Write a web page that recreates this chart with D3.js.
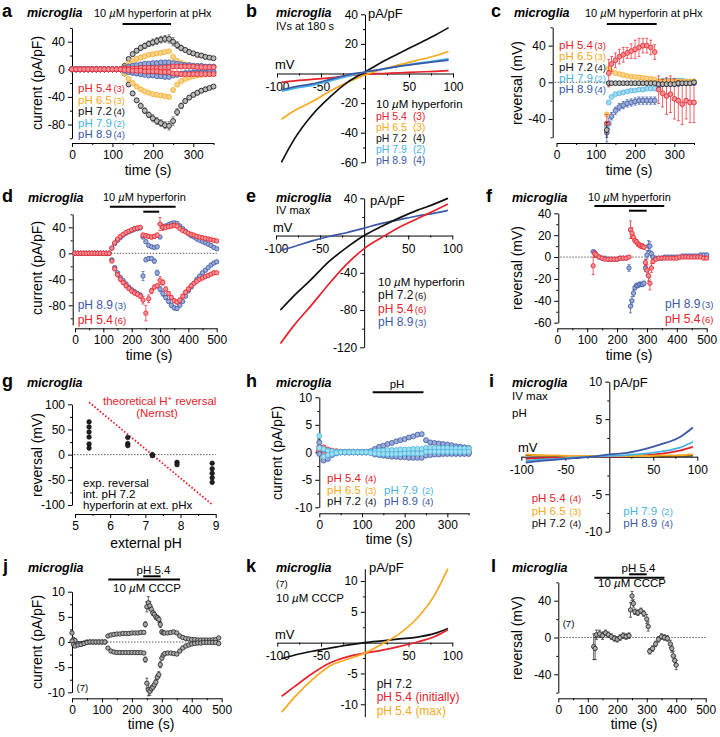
<!DOCTYPE html>
<html><head><meta charset="utf-8">
<script src="https://cdn.jsdelivr.net/npm/d3@7"></script>
<style>body{margin:0;background:#fff}svg{display:block}</style>
</head><body>
<script>
// ================= DATA =================
const RED="#e8212b", ORG="#f6a821", BLK="#111111", LBL="#48b3e3", DBL="#3b58a8";
const phLabels=["pH 5.4","pH 6.5","pH 7.2","pH 7.9","pH 8.9"];
const phColors=[RED,ORG,BLK,LBL,DBL];

// panel a : current vs time, hyperforin at pHx (positive / negative branches)
const tA=[0,10,20,30,40,50,60,70,80,90,100,110,120,130,140,150,160,170,180,190,200,210,220,230,240,250,260,270,280,290,300,310,320,330,340,350];
const aBlkP=[0,0,0,0,0,0,0,0,0,0,0,0,0,5,15,22,27,31,34,37,39,41,43,44,44,40,35,31,28,25,23,21,20,18,17,16];
const aBlkN=[0,0,0,0,0,0,0,0,0,0,0,0,0,-6,-22,-35,-45,-53,-60,-66,-71,-75,-78,-81,-82,-75,-62,-53,-46,-41,-37,-34,-31,-29,-27,-25];
const aBlkE=[0,0,0,0,0,0,0,0,0,0,0,0,0,1,2,3,3,4,4,4,5,5,5,5,6,6,5,4,3,3,3,3,3,3,2,2];
const aOrgP=[0,0,0,0,0,0,0,0,0,0,0,0,0,3,8,12,15,17,19,21,22,23,24,25,26,18,12,9,7,6,5,4,4,3,3,3];
const aOrgN=[0,0,0,0,0,0,0,0,0,0,0,0,0,-6,-14,-20,-25,-29,-32,-34,-36,-37,-38,-39,-40,-30,-22,-17,-14,-12,-10,-9,-8,-7,-7,-6];
const aLblP=[0,0,0,0,0,0,0,0,0,0,0,0,0,1,3,4,5,6,6,7,7,7,8,8,8,7,6,5,5,4,4,4,3,3,3,3];
const aLblN=[0,0,0,0,0,0,0,0,0,0,0,0,0,-2,-4,-5,-6,-7,-7,-8,-8,-9,-9,-9,-10,-8,-7,-6,-5,-5,-4,-4,-4,-4,-3,-3];
const aDblP=[0,0,0,0,0,0,0,0,0,0,0,0,0,2,4,5,6,7,8,8,9,9,10,10,10,9,8,7,6,6,5,5,5,4,4,4];
const aDblN=[0,0,0,0,0,0,0,0,0,0,0,0,0,-2,-4,-5,-6,-7,-8,-9,-9,-10,-10,-11,-11,-9,-8,-7,-6,-6,-5,-5,-5,-5,-4,-4];
const aRedP=[0,0,0,0,0,0,0,0,0,0,0,0,0,1,1,1,1,2,2,2,2,2,2,3,3,4,4,4,4,4,4,3,3,3,3,3];
const aRedN=[0,0,0,0,0,0,0,0,0,0,0,0,0,-1,-1,-2,-2,-2,-3,-3,-3,-3,-4,-4,-4,-6,-6,-7,-7,-7,-7,-7,-7,-7,-7,-7];
const aN=["(3)","(3)","(4)","(2)","(4)"];
const aBar=[125,245];

// panel b : IVs at 180 s
const vIV=[-95,-80,-60,-40,-20,0,20,40,60,80,95];
const bRed=[-6,-5,-4,-3,-1.5,-0.5,0,0.5,1,1.5,2];
const bOrg=[-31,-25,-19,-12,-6,-1,3,6,9,12,15];
const bBlk=[-60,-44,-28,-16,-6,1,8,14,20,26,31];
const bLbl=[-12,-10,-8,-5,-2,1,3,5,7,8.5,10];
const bDbl=[-11,-9,-7,-4,-1,1,3,5,6.5,8,9];
const bN=["(3)","(3)","(4)","(2)","(4)"];

// panel c : reversal vs time
const tC=[128,133,140,150,160,170,180,190,200,210,220,230,240,250,260,270,280,290,300,310,320,330,340,350];
const cRed=[-45,10,20,24,28,30,32,34,36,38,40,40,38,33,-8,-12,-15,-13,-18,-20,-24,-20,-22,-22];
const cRedE=[10,15,8,8,8,8,6,8,10,10,8,8,8,8,15,15,20,20,22,22,22,20,22,22];
const cOrg=[-35,15,12,10,9,8,7,6,6,5,5,4,4,3,1,1,1,1,1,1,1,1,1,1];
const cBlk=[-52,-1,-1,-1,-1,-1,-1,-1,-1,-1,-1,-1,-1,-1,-2,-2,-2,-2,-2,-1,-1,-1,-1,0];
const cBlkE=[8,2,1,1,1,1,1,1,1,1,1,1,1,1,1,1,1,1,1,1,1,1,1,1];
const cLbl=[-48,-22,-16,-13,-12,-11,-10,-9,-9,-8,-8,-7,-7,-7,1,2,2,2,2,2,2,1,1,1];
const cDbl=[-55,-45,-37,-31,-27,-25,-23,-22,-21,-20,-20,-20,-20,-20,-4,-2,-2,-2,-2,-2,-1,-1,-1,-1];
const cDblE=[10,6,4,4,4,4,4,4,4,4,4,4,4,4,2,1,1,1,1,1,1,1,1,1];
const cN=["(3)","(3)","(4)","(2)","(4)"];
const cBar=[128,255];

// panel d : current vs time, pH 8.9 / 5.4 during hyperforin
const tD=[0,10,20,30,40,50,60,70,80,90,100,110,120,130,140,150,160,170,180,190,200,210,220,230,240,250,260,270,280,290,300,310,320,330,340,350,360,370,380,390,400,410,420,430,440,450,460,470,480,490,500];
const dBlueP=[0,0,0,0,0,0,0,0,0,0,0,0,0,8,15,20,24,28,31,33,35,37,38,39,25,18,12,10,9,10,25,40,42,44,46,47,46,42,38,34,30,27,25,22,20,18,16,14,12,9,7];
const dRedP=[0,0,0,0,0,0,0,0,0,0,0,0,0,8,16,22,26,29,32,34,36,38,39,40,28,27,26,25,26,28,45,40,40,41,42,43,42,38,35,33,31,29,28,26,25,24,23,22,21,20,19];
const dRedPE=[0,0,0,0,0,0,0,0,0,0,0,0,0,2,2,2,2,2,2,2,2,2,2,2,3,3,3,3,3,3,10,5,3,3,3,3,3,2,2,2,2,2,2,2,2,2,2,2,2,2,2];
const dBlueN=[0,0,0,0,0,0,0,0,0,0,0,0,0,-10,-22,-30,-37,-42,-47,-52,-56,-59,-62,-64,-35,-10,-8,-8,-12,-30,-55,-62,-68,-74,-80,-84,-85,-80,-74,-66,-58,-52,-46,-40,-35,-30,-26,-22,-18,-15,-13];
const dBlueNE=[0,0,0,0,0,0,0,0,0,0,0,0,0,2,2,2,2,2,2,2,2,2,2,2,7,3,2,2,3,4,4,4,3,3,3,3,3,2,2,2,2,2,2,2,2,2,2,2,2,2,2];
const dRedN=[0,0,0,0,0,0,0,0,0,0,0,0,0,-12,-24,-33,-40,-45,-50,-54,-58,-61,-63,-66,-72,-92,-70,-58,-52,-50,-42,-45,-55,-62,-68,-73,-75,-72,-66,-60,-55,-50,-46,-43,-40,-38,-36,-34,-32,-30,-30];
const dRedNE=[0,0,0,0,0,0,0,0,0,0,0,0,0,2,2,3,3,3,3,3,3,3,3,3,6,12,6,4,3,3,6,4,3,3,3,3,3,3,3,3,3,3,2,2,2,2,2,2,2,2,2];
const dN=["(6)","","","","(3)"];
const dBar=[123,355], dPhBar=[241,297];

// panel e : IV max
const eBlk=[-80,-65,-47,-28,-13,0,10,19,27,34,40];
const eRed=[-116,-97,-75,-52,-31,-14,-2,9,18,27,34];
const eBlue=[-16,-12,-6,-1,3,8,13,17,21,24,27];
const eN=["(6)","","(6)","","(3)"];

// panel f : reversal vs time
const tF=[120,125,130,140,150,160,170,180,190,200,210,220,230,240,245,250,255,260,265,270,275,280,285,290,295,300,305,310,315,320,330,340,350,360,370,380,390,400,410,420,430,440,450,460,470,480,490,500];
const fBlue=[5,4,2,0,-1,-1,-2,-2,-2,-2,-1,-1,-1,-10,-45,-40,-33,-28,-26,-26,-25,-25,-25,-24,-10,2,10,10,3,0,-1,-1,-1,0,0,0,0,0,0,1,1,1,1,1,1,2,2,2];
const fBlueE=[1,1,1,1,1,1,1,1,1,1,1,1,1,3,6,4,3,2,2,2,2,2,2,2,3,4,5,4,2,1,1,1,1,1,1,1,1,1,1,1,1,1,1,1,1,1,1,1];
const fRed=[-8,3,2,0,-1,-2,-2,-2,-2,-2,-1,-1,-1,0,25,22,18,15,14,12,11,10,10,9,-5,-12,-17,-24,-10,-4,-2,-1,-1,-1,-1,-1,-1,-1,0,0,0,0,0,0,0,0,-1,-1];
const fRedE=[8,3,2,1,1,1,1,1,1,1,1,1,1,1,8,5,3,2,2,2,2,2,2,2,3,5,5,6,4,2,1,1,1,1,1,1,1,1,1,1,1,1,1,1,1,1,1,1];
const fBar=[124,358], fPhBar=[240,299];

// panel g : reversal vs external pH
const gPH=[5.4,5.4,5.4,5.4,5.4,5.4,6.5,6.5,6.5,7.2,7.2,7.9,7.9,8.9,8.9,8.9,8.9,8.9];
const gRev=[65,55,45,35,21,13,34,22,18,0,-2,-15,-20,-17,-28,-37,-46,-55];
const nernstPH=[5.4,8.9], nernstMV=[104,-99];

// panel h : pH alone
const tH=tA;
const hDblP=[1.8,0.5,0.2,0.1,0,0,0,0,0,0,0,0,0.2,0.6,1.0,1.2,1.5,1.7,2.0,2.2,2.4,2.7,2.9,3.2,3.3,2.2,1.8,1.7,1.6,1.5,1.4,1.3,1.1,1.0,0.9,0.8];
const hDblN=[-0.3,-1.5,-1.2,-0.5,-0.2,0,0,0,0,0,0,0,-0.1,-0.4,-0.5,-0.6,-0.7,-0.8,-0.8,-0.9,-0.9,-1.0,-1.0,-1.0,-1.0,-0.6,-0.5,-0.4,-0.4,-0.3,-0.3,-0.3,-0.3,-0.3,-0.3,-0.3];
const hLblP=[3.0,0.6,0.3,0.2,0.1,0.1,0.1,0.1,0.1,0.1,0.1,0.1,0.1,0.2,0.3,0.3,0.4,0.4,0.4,0.5,0.5,0.5,0.6,0.6,0.6,0.8,0.8,0.8,0.8,0.8,0.8,0.7,0.7,0.7,0.7,0.7];
const hLblN=[0.8,-0.8,-0.5,-0.3,-0.1,0,0,0,0,0,0,0,-0.1,-0.2,-0.3,-0.3,-0.3,-0.3,-0.3,-0.3,-0.2,-0.2,-0.2,-0.2,-0.2,0.1,0.1,0.1,0.1,0.1,0.1,0.1,0.1,0.1,0.1,0.1];
const hRedP=[1.0,0.9,0.5,0.3,0.2,0.1,0.1,0.1,0.1,0.1,0.1,0.1,0.1,0.1,0.1,0.1,0.1,0.1,0.1,0.2,0.2,0.2,0.2,0.2,0.2,0.3,0.3,0.3,0.3,0.3,0.3,0.3,0.2,0.2,0.2,0.2];
const hRedN=[0.3,-0.3,-0.2,-0.1,0,0,0,0,0,0,0,0,0,0,0,0,0,0,-0.1,-0.1,-0.1,-0.1,-0.1,-0.1,-0.1,-0.1,-0.1,-0.1,-0.1,-0.1,-0.1,-0.1,-0.1,-0.1,-0.1,-0.1];
const hOrg=[0.5,0.3,0.2,0.1,0.1,0.1,0.1,0.1,0.1,0.1,0.1,0.1,0.1,0.1,0.1,0.1,0.1,0.1,0.1,0.1,0.1,0.1,0.1,0.1,0.1,0.1,0.1,0.1,0.1,0.1,0.1,0.1,0.1,0.1,0.1,0.1];
const hBlk=[0.2,0.1,0,0,0,0,0,0,0,0,0,0,0,0,0,0,0,0,0,0,0,0,0,0,0,0,0,0,0,0,0,0,0,0,0,0];
const hN=["(4)","(3)","(4)","(2)","(4)"];
const hBar=[125,244];

// panel i : IV max, pH alone
const iRed=[-0.3,-0.2,-0.15,-0.1,0,0,0.05,0.2,0.4,0.8,1.3];
const iOrg=[0.3,0.2,0.15,0.1,0.1,0.1,0.1,0.1,0.15,0.2,0.3];
const iBlk=[0.2,0.15,0.1,0.05,0,0,0,0.05,0.05,0.1,0.15];
const iLbl=[-0.6,-0.4,-0.3,-0.1,0,0.1,0.2,0.4,0.7,1.2,2.0];
const iDbl=[-0.8,-0.6,-0.4,-0.2,0,0.3,0.5,1.0,1.7,2.6,3.9];

// panel j : CCCP current
const tJ=[0,5,10,20,30,40,50,60,70,80,90,100,110,120,130,140,150,160,170,180,190,200,210,220,230,240,245,250,255,260,265,270,275,280,285,290,295,300,305,310,320,330,340,350,360,370,380,390,400,410,420,430,440,450,460,470,480,490];
const jP=[1.8,0.5,0.3,-0.3,-0.3,-0.2,0,0,0,0,0,0,0,1.2,1.4,1.5,1.6,1.6,1.7,1.7,1.7,1.8,1.8,1.8,1.9,1.9,3.5,7.0,7.8,7.2,6.5,5.8,5.5,5.0,4.8,4.5,3.5,2.0,1.8,1.8,1.8,1.9,2.0,1.8,1.2,0.9,0.7,0.6,0.5,0.5,0.4,0.4,0.4,0.4,0.4,0.4,0.5,0.8];
const jN=[0.2,-0.5,-0.8,-0.6,-0.5,-0.3,-0.1,0,0,0,0,0,0,-1.2,-1.8,-2.0,-2.1,-2.1,-2.1,-2.1,-2.1,-2.1,-2.1,-2.1,-2.1,-2.2,-3.5,-8.2,-9.5,-9.8,-9.3,-9.0,-8.5,-8.0,-7.0,-6.5,-4.5,-3.2,-2.6,-2.3,-2.2,-2.2,-2.3,-2.4,-1.8,-1.2,-0.8,-0.6,-0.4,-0.3,-0.2,-0.2,-0.1,-0.1,-0.1,-0.1,-0.1,-0.3];
const jE=[0.3,0.2,0.2,0.1,0.1,0.1,0.1,0.1,0.1,0.1,0.1,0.1,0.1,0.2,0.2,0.2,0.2,0.2,0.2,0.2,0.2,0.2,0.2,0.2,0.2,0.2,0.5,1.0,1.2,0.8,0.6,0.5,0.5,0.5,0.5,0.6,0.6,0.4,0.3,0.2,0.2,0.2,0.2,0.2,0.2,0.2,0.2,0.2,0.2,0.2,0.2,0.2,0.2,0.2,0.2,0.2,0.2,0.2];
const jBar=[121,361], jPhBar=[238,296];

// panel k : CCCP IVs
const kBlk=[-2.6,-2.0,-1.4,-0.9,-0.4,0,0.3,0.6,0.9,1.5,2.3];
const kRed=[-8.7,-7.1,-5.0,-3.3,-2.3,-1.7,-1.2,-0.6,0.1,1.0,2.1];
const kOrg=[-11.3,-8.8,-6.0,-3.8,-2.7,-1.7,-0.2,1.5,4.0,7.8,12];

// panel l : CCCP reversal
const tL=[120,125,130,140,150,160,170,180,190,200,210,220,230,240,245,250,255,260,270,280,290,300,305,310,320,330,340,350,360,370,380,385,390,395,400];
const lV=[-10,-12,3,4,2,5,3,1,-1,-2,0,2,1,2,30,45,37,28,27,29,26,20,12,-15,-12,-7,-2,1,0,-1,-7,-12,-20,-25,-30];
const lE=[14,12,5,4,4,3,3,3,3,3,3,3,3,3,8,5,4,3,3,3,3,5,5,3,3,3,3,3,3,3,4,4,5,5,5];
const lBar=[122,360], lPhBar=[240,300];

// ================= DRAWING =================
const FONT="'Liberation Sans', Arial, Helvetica, sans-serif";
const svg=d3.select("body").append("svg").attr("width",720).attr("height",737);
svg.append("rect").attr("width",720).attr("height",737).attr("fill","#fff");
const fmt=d=>String(d);
const light=c=>d3.interpolateRgb(c,"#ffffff")(0.5);

function T(x,y,parts,o={}){
  const t=svg.append("text").attr("x",x).attr("y",y).attr("font-family",FONT)
    .attr("font-size",o.size||11).attr("fill",o.fill||"#000").attr("text-anchor",o.anchor||"start");
  if(o.weight)t.attr("font-weight",o.weight);
  if(o.style)t.attr("font-style",o.style);
  if(o.rot)t.attr("transform",`rotate(-90,${x},${y})`);
  (typeof parts==="string"?[{t:parts}]:parts).forEach(p=>{
    const s=t.append("tspan").text(p.t);
    if(p.size)s.attr("font-size",p.size);
    if(p.style)s.attr("font-style",p.style);
    if(p.fill)s.attr("fill",p.fill);
    if(p.dx!=null)s.attr("dx",p.dx);
    if(p.dy!=null)s.attr("dy",p.dy);
  });
  return t;
}
function header(x,y,letter,mx){
  T(x,y,letter,{size:18,weight:"bold"});
  T(mx,y,"microglia",{size:12.5,weight:"bold",style:"italic"});
}
function styleAxis(s){
  s.attr("font-family",FONT).attr("font-size",12);
  s.selectAll("text").attr("fill","#000");
  s.selectAll("path,line").attr("stroke","#000");
}
function axesTime(o){
  const x=d3.scaleLinear().domain(o.xd).range(o.xr);
  const y=d3.scaleLinear().domain(o.yd).range(o.yr);
  const g=svg.append("g");
  g.append("g").attr("transform",`translate(0,${o.xy})`)
    .call(d3.axisBottom(x).tickValues(o.xt).tickSize(4).tickPadding(3).tickSizeOuter(0).tickFormat(fmt)).call(styleAxis);
  g.append("g").attr("transform",`translate(0,${o.xy})`)
    .call(d3.axisBottom(x).tickValues(o.xm).tickSize(2).tickFormat("")).call(s=>s.select(".domain").remove()).call(styleAxis);
  g.append("g").attr("transform",`translate(${o.yx},0)`)
    .call(d3.axisLeft(y).tickValues(o.yt).tickSize(4).tickPadding(3).tickSizeOuter(0).tickFormat(fmt)).call(styleAxis);
  if(o.ym)g.append("g").attr("transform",`translate(${o.yx},0)`)
    .call(d3.axisLeft(y).tickValues(o.ym).tickSize(2).tickFormat("")).call(s=>s.select(".domain").remove()).call(styleAxis);
  if(o.zero)g.append("line").attr("x1",o.yx+2).attr("x2",o.zx||o.xr[1]).attr("y1",y(0)).attr("y2",y(0))
    .attr("stroke","#333").attr("stroke-width",0.8).attr("stroke-dasharray","1.5,1.5");
  return {x,y,g:g.append("g")};
}
function axesIV(o){
  const x=d3.scaleLinear().domain([-100,100]).range(o.xr);
  const y=d3.scaleLinear().domain(o.yd).range(o.yr);
  const g=svg.append("g");
  g.append("g").attr("transform",`translate(0,${y(0)})`)
    .call(d3.axisBottom(x).tickValues([-100,-50,50,100]).tickSize(4).tickPadding(5).tickSizeOuter(0).tickFormat(fmt)).call(styleAxis);
  g.append("g").attr("transform",`translate(0,${y(0)})`)
    .call(d3.axisBottom(x).tickValues([-75,-25,25,75]).tickSize(2).tickFormat("")).call(s=>s.select(".domain").remove()).call(styleAxis);
  g.append("g").attr("transform",`translate(${x(0)},0)`)
    .call(d3.axisLeft(y).tickValues(o.yt).tickSize(4).tickPadding(3).tickSizeOuter(0).tickFormat(fmt)).call(styleAxis);
  g.append("g").attr("transform",`translate(${x(0)},0)`)
    .call(d3.axisLeft(y).tickValues(o.ym).tickSize(2).tickFormat("")).call(s=>s.select(".domain").remove()).call(styleAxis);
  return {x,y,g:g.append("g")};
}
function dots(P,t,v,col,o={}){
  const pts=t.map((tt,i)=>({t:tt,v:v[i],e:o.err?o.err[i]:0})).filter(d=>d.v!=null);
  const g=P.g.append("g");
  const ec=o.ecol||col;
  const eb=pts.filter(d=>d.e>0);
  g.selectAll("line.e").data(eb).join("line").attr("x1",d=>P.x(d.t)).attr("x2",d=>P.x(d.t))
    .attr("y1",d=>P.y(d.v-d.e)).attr("y2",d=>P.y(d.v+d.e)).attr("stroke",ec).attr("stroke-width",0.7);
  [-1,1].forEach(sg=>g.selectAll(null).data(eb).join("line").attr("x1",d=>P.x(d.t)-1.5).attr("x2",d=>P.x(d.t)+1.5)
    .attr("y1",d=>P.y(d.v+sg*d.e)).attr("y2",d=>P.y(d.v+sg*d.e)).attr("stroke",ec).attr("stroke-width",0.7));
  g.selectAll("circle").data(pts).join("circle").attr("cx",d=>P.x(d.t)).attr("cy",d=>P.y(d.v))
    .attr("r",o.r||P.r||2.2).attr("fill",o.fill||light(col)).attr("stroke",o.stroke||col).attr("stroke-width",0.8);
}
function curve(P,v,vals,col,w){
  P.g.append("path").datum(v.map((vv,i)=>[vv,vals[i]])).attr("fill","none").attr("stroke",col)
    .attr("stroke-width",w||1.7).attr("d",d3.line().x(d=>P.x(d[0])).y(d=>P.y(d[1])).curve(d3.curveMonotoneX));
}
function bar(P,tt,y){
  svg.append("line").attr("x1",P.x(tt[0])).attr("x2",P.x(tt[1])).attr("y1",y).attr("y2",y).attr("stroke","#000").attr("stroke-width",2);
}
function legendRows(x,ys,idx,ns,o={}){
  idx.forEach((k,i)=>{
    const t=T(x,ys[i],[{t:phLabels[k]}],{size:o.size||12,fill:phColors[k]});
    if(o.ncol!=null) T(o.ncol,ys[i],ns[k],{size:o.nsize||10,fill:phColors[k]});
    else t.append("tspan").text(ns[k]).attr("font-size",o.nsize||9.5).attr("dx",o.gap==null?1.5:o.gap);
  });
}
const muHyper=[{t:"10 "},{t:"µ",style:"italic"},{t:"M hyperforin"}];
const muCCCP=[{t:"10 "},{t:"µ",style:"italic"},{t:"M CCCP"}];

// ----- panel a -----
header(2,17,"a",27);
T(94,17,[{t:"10 "},{t:"µ",style:"italic"},{t:"M hyperforin at pHx"}],{size:11});
const A=axesTime({xd:[0,350],xr:[72,213.5],yd:[-100,60],yr:[138.3,27.9],yx:72,xy:143,
  xt:[0,100,200,300],xm:[50,150,250,350],yt:[40,0,-40,-80],ym:[60,20,-20,-60,-100]});
A.r=2.5;
bar(A,aBar,24);
dots(A,tA,aBlkP,BLK,{err:aBlkE,fill:"#bbb",ecol:"#555"});
dots(A,tA,aBlkN,BLK,{err:aBlkE,fill:"#bbb",ecol:"#555"});
dots(A,tA,aOrgP,ORG);dots(A,tA,aOrgN,ORG);
dots(A,tA,aLblP,LBL);dots(A,tA,aLblN,LBL);
dots(A,tA,aDblP,DBL);dots(A,tA,aDblN,DBL);
dots(A,tA,aRedP,RED);dots(A,tA,aRedN,RED);
legendRows(78,[92,103.5,115,126.5,138],[0,1,2,3,4],aN,{size:11.5});
T(148,175,"time (s)",{size:14,anchor:"middle"});
T(42,83,"current (pA/pF)",{size:14,anchor:"middle",rot:true});

// ----- panel b -----
header(246,17,"b",276);
T(276,30,"IVs at 180 s",{size:11});
const B=axesIV({xr:[277,453],yd:[-60,40],yr:[162.3,14.3],yt:[40,20,-20,-40,-60],ym:[30,10,-10,-30,-50]});
curve(B,vIV,bRed,RED);curve(B,vIV,bOrg,ORG);curve(B,vIV,bBlk,BLK);curve(B,vIV,bLbl,LBL);curve(B,vIV,bDbl,DBL);
T(368,17.5,"pA/pF",{size:13});
T(275,68.5,"mV",{size:13});
T(376,108,[{t:"10 "},{t:"µ",style:"italic"},{t:"M hyperforin"}],{size:11.5});
legendRows(376,[120,131,142,153,164],[0,1,2,3,4],bN,{ncol:413,nsize:10,size:10.5});

// ----- panel c -----
header(491,17,"c",514);
T(585,17,[{t:"10 "},{t:"µ",style:"italic"},{t:"M hyperforin at pHx"}],{size:11});
const C=axesTime({xd:[0,350],xr:[556.5,694],yd:[-60,60],yr:[137.3,27.3],yx:552.7,xy:143,
  xt:[0,100,200,300],xm:[50,150,250,350],yt:[40,0,-40],ym:[60,20,-20,-60],zero:true,zx:696});
C.r=2.4;
bar(C,cBar,24);
dots(C,tC,cDbl,DBL,{err:cDblE});
dots(C,tC,cLbl,LBL);
dots(C,tC,cOrg,ORG);
dots(C,tC,cRed,RED,{err:cRedE});
dots(C,tC,cBlk,BLK,{err:cBlkE,fill:"#bbb"});
legendRows(559,[49,60,71,82,93],[0,1,2,3,4],cN,{size:11.5});
T(629,175,"time (s)",{size:14,anchor:"middle"});
T(522,83,"reversal (mV)",{size:14,anchor:"middle",rot:true});

// ----- panel d -----
header(2,202,"d",28);
T(103,201,muHyper,{size:11});
const D=axesTime({xd:[0,500],xr:[75,216.7],yd:[-110,60],yr:[324.8,214.3],yx:72.7,xy:328.3,
  xt:[0,100,200,300,400,500],xm:[50,150,250,350,450],yt:[40,0,-40,-80],ym:[60,20,-20,-60,-100],zero:true});
bar(D,dBar,206.7);bar(D,dPhBar,211.7);
dots(D,tD,dBlueP,DBL);dots(D,tD,dBlueN,DBL,{err:dBlueNE});
dots(D,tD,dRedP,RED,{err:dRedPE});dots(D,tD,dRedN,RED,{err:dRedNE});
legendRows(77.7,[309,324],[4,0],dN);
T(149,360,"time (s)",{size:14,anchor:"middle"});
T(42,268,"current (pA/pF)",{size:14,anchor:"middle",rot:true});

// ----- panel e -----
header(246,202,"e",276);
T(276,214,"IV max",{size:11});
const E=axesIV({xr:[276,452.3],yd:[-120,40],yr:[347.3,198.3],yt:[40,-40,-80,-120],ym:[20,-20,-60,-100]});
curve(E,vIV,eBlue,DBL);curve(E,vIV,eBlk,BLK);curve(E,vIV,eRed,RED);
T(370,205,"pA/pF",{size:13});
T(273,231.5,"mV",{size:13});
T(378,286,[{t:"10 "},{t:"µ",style:"italic"},{t:"M hyperforin"}],{size:11.5});
legendRows(378,[298.5,313,325.7],[2,0,4],eN);

// ----- panel f -----
header(486,202,"f",512);
T(588,201,muHyper,{size:11});
const F=axesTime({xd:[0,500],xr:[557.3,706.7],yd:[-60,40],yr:[322.7,213.3],yx:558.3,xy:328.3,
  xt:[0,100,200,300,400,500],xm:[50,150,250,350,450],yt:[40,20,0,-20,-40,-60],ym:[30,10,-10,-30,-50],zero:true});
bar(F,fBar,206);bar(F,fPhBar,210.7);
dots(F,tF,fBlue,DBL,{err:fBlueE});
dots(F,tF,fRed,RED,{err:fRedE});
legendRows(665,[308,323.3],[4,0],dN);
T(629,360,"time (s)",{size:14,anchor:"middle"});
T(522,268,"reversal (mV)",{size:14,anchor:"middle",rot:true});

// ----- panel g -----
header(2,387,"g",27);
const G=axesTime({xd:[5,9],xr:[75,215.7],yd:[-100,100],yr:[505,404.3],yx:72,xy:514,
  xt:[5,6,7,8,9],xm:[5.5,6.5,7.5,8.5],yt:[100,50,0,-50,-100],ym:[75,25,-25,-75],zero:true});
G.g.append("line").attr("x1",G.x(nernstPH[0])).attr("y1",G.y(nernstMV[0])).attr("x2",G.x(nernstPH[1])).attr("y2",G.y(nernstMV[1]))
  .attr("stroke",RED).attr("stroke-width",1.8).attr("stroke-dasharray","1.6,1.9");
G.g.selectAll("circle.g").data(gPH.map((p,i)=>[p,gRev[i]])).join("circle").attr("cx",d=>G.x(d[0])).attr("cy",d=>G.y(d[1]))
  .attr("r",2.3).attr("fill","#222").attr("stroke","#000").attr("stroke-width",0.6);
T(103,404.5,[{t:"theoretical H"},{t:"+",size:8,dy:-4},{t:" reversal",dy:4}],{size:11.5,fill:RED});
T(157,416.5,"(Nernst)",{size:11.5,fill:RED,anchor:"middle"});
T(83,487,"exp. reversal",{size:11.5});
T(83,498,"int. pH 7.2",{size:11.5});
T(83,508.5,"hyperforin at ext. pHx",{size:11.5});
T(146,548,"external pH",{size:14,anchor:"middle"});
T(42,455,"reversal (mV)",{size:14,anchor:"middle",rot:true});

// ----- panel h -----
header(246,387,"h",276);
const H=axesTime({xd:[0,350],xr:[319.3,468.7],yd:[-10,10],yr:[507.3,397.3],yx:319.3,xy:513.3,
  xt:[0,100,200,300],xm:[50,150,250,350],yt:[10,5,0,-5,-10],ym:[7.5,2.5,-2.5,-7.5]});
H.r=2.5;
T(397,388,"pH",{size:11.5,anchor:"middle"});
bar(H,hBar,392.3);
dots(H,tH,hBlk,BLK,{fill:"#bbb"});
dots(H,tH,hOrg,ORG);
dots(H,tH,hRedP,RED);dots(H,tH,hRedN,RED);
dots(H,tH,hDblP,DBL);dots(H,tH,hDblN,DBL);
dots(H,tH,hLblP,LBL,{fill:"#9fe0ee"});dots(H,tH,hLblN,LBL,{fill:"#9fe0ee"});
legendRows(327,[482.3,494,504.7],[0,1,2],hN,{gap:4,size:11.5});
legendRows(384,[494,504.7],[3,4],hN,{gap:4,size:11.5});
T(389,544,"time (s)",{size:14,anchor:"middle"});
T(282,453,"current (pA/pF)",{size:14,anchor:"middle",rot:true});

// ----- panel i -----
header(489,386.5,"i",512);
T(512,399.5,"IV max",{size:11.5});
T(512,417,"pH",{size:11.5});
const I=axesIV({xr:[521.3,697.3],yd:[-10,10],yr:[531.7,381.7],yt:[10,5,-5,-10],ym:[7.5,2.5,-2.5,-7.5]});
curve(I,vIV,iBlk,BLK,1.8);curve(I,vIV,iRed,RED,1.8);curve(I,vIV,iOrg,ORG,2);curve(I,vIV,iLbl,LBL,1.8);curve(I,vIV,iDbl,DBL,1.8);
T(613,387,"pA/pF",{size:13});
T(518,452,"mV",{size:13});
legendRows(531.7,[501.7,514.7,527.3],[0,1,2],hN,{gap:4,size:11.5});
legendRows(623.3,[514.7,527.3],[3,4],hN,{gap:4,size:11.5});

// ----- panel j -----
header(3,572,"j",28);
T(136.5,573.5,"pH 5.4",{size:11.5});
T(113,592,muCCCP,{size:11.5});
const J=axesTime({xd:[0,500],xr:[72,221.7],yd:[-10,10],yr:[692.3,591.7],yx:72,xy:698.3,
  xt:[0,100,200,300,400,500],xm:[50,150,250,350,450],yt:[10,5,0,-5,-10],ym:[7.5,2.5,-2.5,-7.5],zero:true,zx:212});
bar(J,jPhBar,576.3);bar(J,jBar,579.5);
dots(J,tJ,jP,"#222",{err:jE,fill:"#aaa",ecol:"#222"});
dots(J,tJ,jN,"#222",{err:jE,fill:"#aaa",ecol:"#222"});
T(76.5,691,"(7)",{size:9.5});
T(151,729,"time (s)",{size:14,anchor:"middle"});
T(42,642,"current (pA/pF)",{size:14,anchor:"middle",rot:true});

// ----- panel k -----
header(246,572,"k",276);
T(276,587,"(7)",{size:9.5});
T(276,601.5,muCCCP,{size:11.5});
const K=axesIV({xr:[277.3,452.3],yd:[-12,12],yr:[716.6,568.7],yt:[10,5,-5,-10],ym:[7.5,2.5,-2.5,-7.5]});
curve(K,vIV,kBlk,BLK);curve(K,vIV,kRed,RED);curve(K,vIV,kOrg,ORG);
T(369,572,"pA/pF",{size:13});
T(275,638.5,"mV",{size:13});
T(376.7,687.5,"pH 7.2",{size:12,fill:BLK});
T(376.7,701,"pH 5.4 (initially)",{size:12,fill:RED});
T(376.7,714.5,"pH 5.4 (max)",{size:12,fill:ORG});

// ----- panel l -----
header(491,572,"l",512);
T(621.5,571.5,"pH 5.4",{size:11.5});
T(598,587,muCCCP,{size:11.5});
const L=axesTime({xd:[0,500],xr:[558.3,705.7],yd:[-60,60],yr:[692.7,582.3],yx:558.3,xy:698.3,
  xt:[0,100,200,300,400,500],xm:[50,150,250,350,450],yt:[40,0,-40],ym:[60,20,-20,-60],zero:true,zx:707});
bar(L,lPhBar,574.3);bar(L,lBar,577.7);
dots(L,tL,lV,"#222",{err:lE,fill:"#aaa",ecol:"#222"});
T(562.7,627,"(7)",{size:9.5});
T(634,729,"time (s)",{size:14,anchor:"middle"});
T(522,638,"reversal (mV)",{size:14,anchor:"middle",rot:true});
</script>
</body></html>
